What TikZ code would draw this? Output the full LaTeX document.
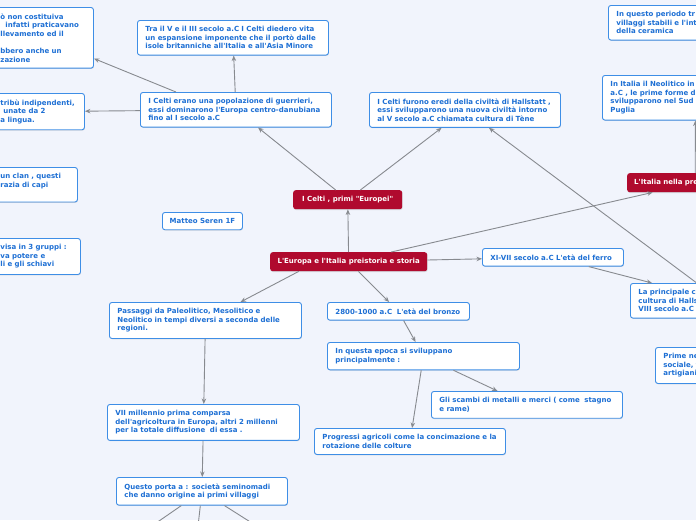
\documentclass[tikz,border=0pt]{standalone}
\usepackage{fontspec}
\setmainfont{DejaVu Sans}[Ligatures=TeXOff]
\usetikzlibrary{arrows.meta,shadows}

\definecolor{bgcol}{HTML}{F1F4FC}
\definecolor{ideaborder}{HTML}{3E8EE6}
\definecolor{ideatext}{HTML}{1D6FD4}
\definecolor{mainred}{HTML}{B00A2E}
\definecolor{linkgrey}{HTML}{878A8F}

\newcommand{\ideafont}{\fontsize{7}{8.6}\selectfont\bfseries}

\tikzset{
  idea/.style={draw=ideaborder, fill=white, line width=0.9pt, rounded corners=2.5pt,
    text=ideatext, font=\ideafont, align=left, inner xsep=8pt, inner ysep=6pt,
    anchor=north west, drop shadow={shadow xshift=0.5pt, shadow yshift=-0.8pt, opacity=0.25}},
  mainidea/.style={fill=mainred, rounded corners=2.5pt, text=white, font=\ideafont,
    inner xsep=7pt, inner ysep=5pt, minimum height=19pt, anchor=north west,
    drop shadow={shadow xshift=0.5pt, shadow yshift=-0.8pt, opacity=0.25}},
  link/.style={draw=linkgrey, line width=0.9pt, -{Stealth[length=5.5pt,width=4.5pt]}}
}

\begin{document}
\begin{tikzpicture}[x=1pt,y=-1pt]
  \fill[bgcol] (0,0) rectangle (696,520);
  \useasboundingbox (0,0) rectangle (696,520);
  \clip (0,0) rectangle (696,520);

  \node[mainidea, minimum width=157pt] (EU) at (270,252) {L'Europa e l'Italia preistoria e storia};
  \node[mainidea, minimum width=109pt] (ICP) at (293,190) {I Celti , primi "Europei"};
  \node[mainidea, text width=122pt, align=left] (IT) at (627,173) {L'Italia nella pre};

  \node[idea, text width=85pt] (TL) at (-8,7) {ò non costituiva\\ \hspace*{5pt}infatti praticavano\\ llevamento ed il\\ \mbox{}\\ bbero anche un\\ zazione};
  \node[idea, text width=175pt] (TV) at (137,20) {Tra il V e il III secolo a.C I Celti diedero vita\\ un espansione imponente che il portò dalle\\ isole britanniche all'Italia e all'Asia Minore};
  \node[idea, text width=175pt] (CE) at (140,92) {I Celti erano una popolazione di guerrieri,\\ essi dominarono l'Europa centro-danubiana\\ fino al I secolo a.C};
  \node[idea, text width=76pt] (LM) at (-8,93) {tribù indipendenti,\\ \hspace*{3pt}unate da 2\\ a lingua.};
  \node[idea, text width=175pt] (CF) at (369,92) {I Celti furono eredi della civiltà di Hallstatt ,\\ essi svilupparono una nuova civiltà intorno\\ al V secolo a.C chiamata cultura di Tène};
  \node[idea, text width=200pt] (TR) at (608,5) {In questo periodo tr\\ villaggi stabili e l'int\\ della ceramica};
  \node[idea, text width=170pt] (NE) at (602,75) {In Italia il Neolitico in\\ a.C , le prime forme di\\ svilupparono nel Sud\\ Puglia};
  \node[idea, text width=69pt] (CL) at (-8,167) {un clan , questi\\ razia di capi\\ \mbox{}};
  \node[idea, text width=72pt] (GR) at (-8,238) {visa in 3 gruppi :\\ va potere e\\ li e gli schiavi};
  \node[idea, minimum width=80pt, inner xsep=6pt] (MS) at (162,212) {Matteo Seren 1F};

  \node[idea, text width=125pt] (XI) at (482,248) {XI-VII secolo a.C L'età del ferro};
  \node[idea, text width=164pt] (LP) at (630,283) {La principale ci\\ cultura di Halls\\ VIII secolo a.C};
  \node[idea, text width=150pt] (PN) at (655,347) {Prime ne\\ sociale, f\\ artigiani};

  \node[idea, text width=176pt] (PP) at (109,302) {Passaggi da Paleolitico, Mesolitico e\\ Neolitico in tempi diversi a seconda delle\\ regioni.};
  \node[idea, text width=176pt] (VII) at (107,404) {VII millennio prima comparsa\\ dell'agricoltura in Europa, altri 2 millenni\\ per la totale diffusione\ \ di essa .};
  \node[idea, text width=155pt] (QP) at (116,477) {Questo porta a : società seminomadi\\ che danno origine ai primi villaggi};

  \node[idea, text width=126pt] (BR) at (327,302) {2800-1000 a.C\ \ L'età del bronzo};
  \node[idea, text width=176pt] (IQ) at (327,342) {In questa epoca si sviluppano\\ principalmente :};
  \node[idea, text width=175pt] (GS) at (431,391) {Gli scambi di metalli e merci ( come\ \ stagno\\ e rame)};
  \node[idea, text width=175pt] (PA) at (314,428) {Progressi agricoli come la concimazione e la\\ rotazione delle colture};

  \coordinate (q1) at (146,530);
  \coordinate (q2) at (197,535);
  \coordinate (q3) at (263,530);

  \draw[link] (EU) -- (ICP);
  \draw[link] (ICP) -- (CE);
  \draw[link] (ICP) -- (CF);
  \draw[link] (CE) -- (TV);
  \draw[link] ([xshift=-60pt]CE.north) -- (TL);
  \draw[link] (CE) -- (LM);
  \draw[link] (EU) -- (IT);
  \draw[link] (IT) -- (NE);
  \draw[link] (EU) -- (XI);
  \draw[link] (XI) -- (LP);
  \draw[link] (LP) -- (CF);
  \draw[link] ([xshift=-50pt]EU.south) -- (PP);
  \draw[link] (EU) -- (BR);
  \draw[link] (BR) -- (IQ);
  \draw[link] (IQ) -- (GS);
  \draw[link] (IQ) -- (PA);
  \draw[link] (PP) -- (VII);
  \draw[link] (VII) -- (QP);
  \draw[link] (QP) -- (q1);
  \draw[link] (QP) -- (q2);
  \draw[link] (QP) -- (q3);
\end{tikzpicture}
\end{document}
